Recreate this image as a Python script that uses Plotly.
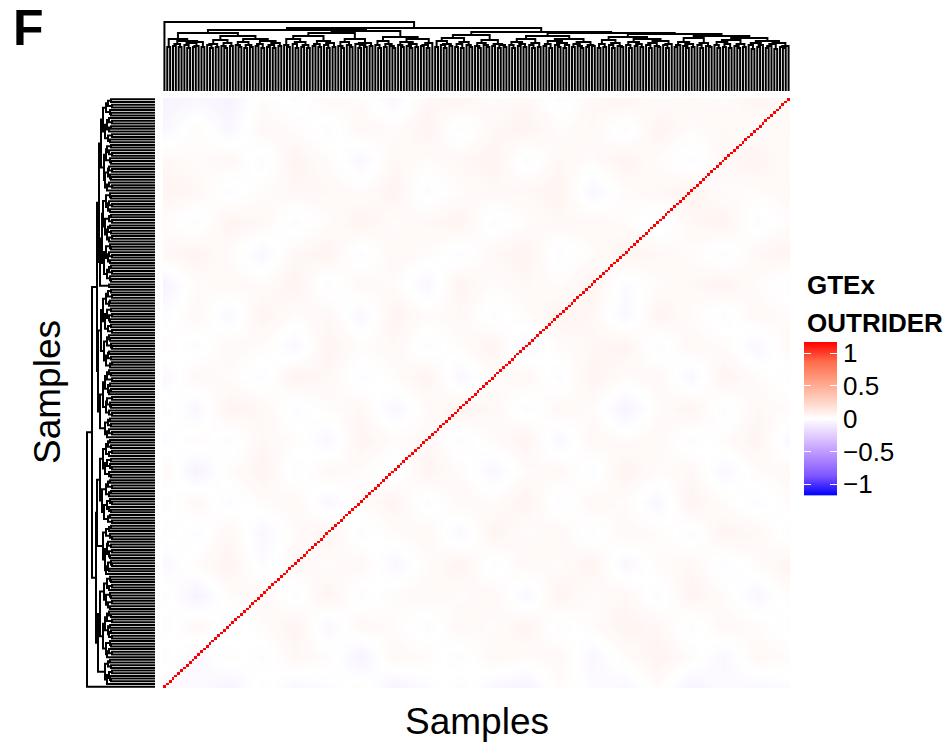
import numpy as np
import plotly.graph_objects as go

W, H = 951, 742
N_SAMPLES = 220

# Merge height between each pair of neighbouring leaves (px above the leaf base)
top_gap_heights = [
    69,44,52,45,47,44,50,46,43,48, 44,45,49,44,58,46,43,47,44,51,
    45,43,48,45,55,46,44,49,43,46, 44,52,45,47,43,50,44,46,43,48,
    45,61,46,44,52,47,43,49,44,46, 43,55,45,47,44,50,46,43,48,44,
    58,45,43,49,46,44,52,47,43,46, 44,48,45,60,46,43,50,44,47,45,
    43,54,46,44,49,45,43,47,44,52, 45,46,43,48,63,44,50,46,43,47,
    45,53,44,47,43,49,46,44,56,45, 43,48,46,44,51,45,47,43,46,44,
    59,46,43,49,45,47,44,52,46,43, 48,44,55,45,47,43,50,46,44,48,
    43,46,52,44,47,45,43,49,44,46, 45,58,43,47,44,51,46,43,48,45,
    44,54,46,43,49,45,47,44,52,46, 43,48,45,44,50,46,43,47,57,44,
    46,49,45,43,47,44,53,46,43,48, 45,44,55,46,43,49,44,47,43,51,
    45,43,47,44,53,46,42,48,44,46, 50,43,45,47,42,48,44,43,45]
left_gap_heights = [
    44,47,43,49,45,44,52,46,43,48, 44,46,50,43,47,45,54,44,48,46,
    43,49,45,44,51,46,43,47,45,44, 50,46,43,48,56,45,44,49,46,43,
    47,45,52,44,46,43,50,45,47,44, 48,43,46,53,45,44,49,46,43,47,
    45,51,44,46,43,48,45,44,55,46, 58,44,47,43,49,45,46,52,44,48,
    43,46,45,50,44,47,43,54,46,45, 48,44,43,51,46,47,44,49,43,45,
    57,46,44,48,43,50,45,47,44,46, 52,43,48,45,44,49,46,43,55,45,
    47,44,50,46,43,48,63,45,47,44, 49,43,46,52,44,48,45,43,50,46,
    44,55,45,47,43,49,44,46,53,45, 43,48,46,44,51,45,47,43,58,44,
    46,49,45,43,52,47,44,48,43,46, 45,50,44,43,47,46,49,59,45,44,
    48,43,46,51,45,44,49,43,47,45, 55,46,44,48,43,50,45,47,44,46,
    43,52,45,44,49,46,43,48,57,45, 47,44,50,43,46,45,44,48,68]

# Regional background tint of the heatmap in units of 0.018, estimated by eye (top row first)
background_tint = [
    [-3,-2,-3, 1,-1, 2, 1,-2, 2, 3, 1, 2,-1, 2, 3, 1, 2, 1, 3, 1],
    [-2, 1,-2, 2, 1,-1, 2, 1, 3,-1, 2, 3, 1, 2,-1, 3, 1, 2, 1, 2],
    [ 2, 1, 2,-1, 3, 1,-2, 2, 1, 2, 3,-1, 2, 1, 3, 1,-1, 2, 3, 1],
    [ 3, 2,-1, 1, 2, 2, 1, 3,-1, 1, 2, 2, 3,-2, 1, 2, 3, 1, 1, 2],
    [ 1,-1, 3, 2,-1, 1, 3, 1, 2, 3,-1, 1, 2, 2, 1,-1, 2, 3,-1, 1],
    [ 2, 3, 1,-2, 2, 3,-1, 2, 1,-1, 2, 3,-1, 1, 3, 2, 1,-1, 2, 3],
    [-3, 1, 2, 1, 3,-1, 2, 1,-2, 3, 1, 2, 1, 3,-1, 1, 2, 3, 1,-1],
    [-1, 2,-2, 3, 1, 2,-2, 3, 1, 2,-1, 1, 3, 2,-2, 3, 1,-1, 2, 1],
    [ 1,-1, 2, 1,-2, 3, 1, 2,-1, 1, 3,-2, 1, 2, 3,-1, 2, 1,-2, 2],
    [-2, 2, 1,-1, 3, 2,-1, 1, 3,-2, 1, 2,-1, 3, 1, 2,-2, 3, 1,-1],
    [ 1,-2, 3, 2,-1, 1, 2,-2, 1, 3, 2,-1, 2, 1,-3, 1, 3,-1, 2, 1],
    [-1, 1,-1, 2, 1,-2, 3, 1, 2,-1, 1, 3,-2, 2, 1, 2,-1, 1, 3,-2],
    [ 2,-3, 1, 3,-1, 2, 1,-1, 3, 1,-2, 1, 2,-1, 3, 1, 2,-2, 1, 2],
    [-1, 2,-1, 1, 2,-2, 1, 3,-1, 2, 1, 3,-1, 2, 1,-2, 3, 1,-1, 1],
    [ 1,-1, 2,-2, 1, 3,-1, 1, 2,-2, 3, 1, 2,-1, 2, 1,-1, 3, 2,-1],
    [-2, 1, 3,-1, 2, 1, 2,-2, 1, 3,-1, 2, 1, 3,-2, 1, 2,-1, 1, 3],
    [ 1,-3, 1, 2,-1, 3,-1, 1, 2, 1, 2,-2, 3, 1, 2,-1, 3, 1,-2, 1],
    [-1, 2,-1, 1, 3,-2, 2, 1,-1, 2, 1, 3,-1, 1, 3, 2,-1, 2, 1,-1],
    [ 1,-2, 1,-1, 2, 1,-3, 2, 1,-1, 2, 1, 2,-2, 1, 3, 1,-2, 2, 1],
    [-2,-1,-3, 1,-2,-1, 1,-3,-1, 1,-2,-3, 1,-1,-2, 1,-3,-1,-2,-1],
]
TINT_UNIT = 0.018

legend_ticks = [1, 0.5, 0, -0.5, -1]
legend_labels = ["1", "0.5", "0", "\u22120.5", "\u22121"]
ramp_values = [-1, -0.75, -0.5, -0.25, 0, 0.25, 0.5, 0.75, 1]
ramp_colors = ["#0000ff", "#7e55ff", "#b38bff", "#dfc5ff", "#ffffff",
               "#ffcebf", "#ff9e81", "#ff6a4a", "#ff0000"]
LEGEND_LIMIT = 1.17


def build_dendrogram(gaps):
    """Cartesian tree over neighbour gaps; returns (positions, heights) with None breaks."""
    pos, hgt = [], []

    def walk(lo, hi):
        if lo == hi:
            return float(lo), 0.0
        k = lo + int(np.argmax(gaps[lo:hi]))
        p1, h1 = walk(lo, k)
        p2, h2 = walk(k + 1, hi)
        h = float(gaps[k])
        pos.extend([p1, p1, p2, p2, None])
        hgt.extend([h1, h, h, h2, None])
        return (p1 + p2) / 2, h

    walk(0, len(gaps))
    return pos, hgt


top_pos, top_h = build_dendrogram(top_gap_heights)
left_pos, left_h = build_dendrogram(left_gap_heights)

diag = np.full((N_SAMPLES, N_SAMPLES), np.nan)
np.fill_diagonal(diag, 1.0)
samples = np.arange(N_SAMPLES)

grid = np.flipud(np.array(background_tint)) * TINT_UNIT
gx = np.linspace(-0.5, N_SAMPLES - 0.5, grid.shape[1])
gy = np.linspace(-0.5, N_SAMPLES - 0.5, grid.shape[0])

main_scale = [[(v + 1) / 2, c] for v, c in zip(ramp_values, ramp_colors)]
legend_y = np.linspace(-LEGEND_LIMIT, LEGEND_LIMIT, 240)

fig = go.Figure()
fig.add_trace(go.Heatmap(x=gx, y=gy, z=grid, zmin=-1, zmax=1, colorscale=main_scale,
                         zsmooth="best", showscale=False, xaxis="x", yaxis="y", hoverinfo="skip"))
fig.add_trace(go.Heatmap(x=samples, y=samples, z=diag, zmin=-1, zmax=1, colorscale=main_scale,
                         showscale=False, xaxis="x", yaxis="y", name="GTEx OUTRIDER"))
fig.add_trace(go.Scatter(x=top_pos, y=top_h, mode="lines", xaxis="x2", yaxis="y2",
                         line=dict(color="black", width=2), showlegend=False, hoverinfo="skip"))
fig.add_trace(go.Scatter(x=left_h, y=left_pos, mode="lines", xaxis="x3", yaxis="y3",
                         line=dict(color="black", width=2), showlegend=False, hoverinfo="skip"))
fig.add_trace(go.Heatmap(x=[0], y=legend_y, z=legend_y.reshape(-1, 1), zmin=-LEGEND_LIMIT, zmax=LEGEND_LIMIT,
                         colorscale=main_scale, showscale=False, xaxis="x4", yaxis="y4", hoverinfo="skip"))


def xdom(a, b):
    return [a / W, b / W]


def ydom(top, bottom):
    return [1 - bottom / H, 1 - top / H]


hidden = dict(visible=False, showgrid=False, zeroline=False, showticklabels=False, automargin=False)
span = [-0.5, N_SAMPLES - 0.5]

fig.update_layout(
    width=W, height=H, margin=dict(l=0, r=0, t=0, b=0, autoexpand=False),
    paper_bgcolor="white", plot_bgcolor="white", showlegend=False,
    font=dict(family="Liberation Sans, Arial, sans-serif", color="black"),
    xaxis=dict(domain=xdom(163, 790), range=span, **hidden),
    yaxis=dict(domain=ydom(98, 688), range=span, **hidden),
    xaxis2=dict(domain=xdom(163, 790), range=span, anchor="y2", **hidden),
    yaxis2=dict(domain=ydom(21, 91), range=[0, 70], anchor="x2", **hidden),
    xaxis3=dict(domain=xdom(85, 155), range=[70, 0], anchor="y3", **hidden),
    yaxis3=dict(domain=ydom(98, 688), range=span[::-1], anchor="x3", **hidden),
    xaxis4=dict(domain=xdom(804, 837), range=[-0.5, 0.5], anchor="y4", **hidden),
    yaxis4=dict(domain=ydom(342, 495.5), range=[-LEGEND_LIMIT, LEGEND_LIMIT], anchor="x4", side="right",
                showgrid=False, zeroline=False, showline=False, automargin=False,
                tickmode="array", tickvals=legend_ticks, ticktext=legend_labels,
                ticks="inside", ticklen=7, tickwidth=1, tickcolor="white", mirror="ticks",
                ticklabelstandoff=5, tickfont=dict(size=26, color="black")),
    annotations=[
        dict(text="<b>F</b>", xref="paper", yref="paper", x=13 / W, y=1, xanchor="left", yanchor="top",
             showarrow=False, font=dict(size=50), borderpad=0, borderwidth=0),
        dict(text="Samples", xref="paper", yref="paper", x=477 / W, y=1 - 721 / H, xanchor="center", yanchor="middle",
             showarrow=False, font=dict(size=37)),
        dict(text="Samples", xref="paper", yref="paper", x=47 / W, y=1 - 392 / H, xanchor="center", yanchor="middle",
             textangle=-90, showarrow=False, font=dict(size=37)),
        dict(text="<b>GTEx</b>", xref="paper", yref="paper", x=805 / W, y=1 - 285 / H, xanchor="left", yanchor="middle",
             showarrow=False, font=dict(size=26)),
        dict(text="<b>OUTRIDER</b>", xref="paper", yref="paper", x=805 / W, y=1 - 323 / H, xanchor="left", yanchor="middle",
             showarrow=False, font=dict(size=26)),
    ],
)

fig.write_html("out.html", config=dict(displayModeBar=False, responsive=False),
               default_width=W, default_height=H,
               post_script="document.body.style.margin='0';document.documentElement.style.overflow='hidden';")
